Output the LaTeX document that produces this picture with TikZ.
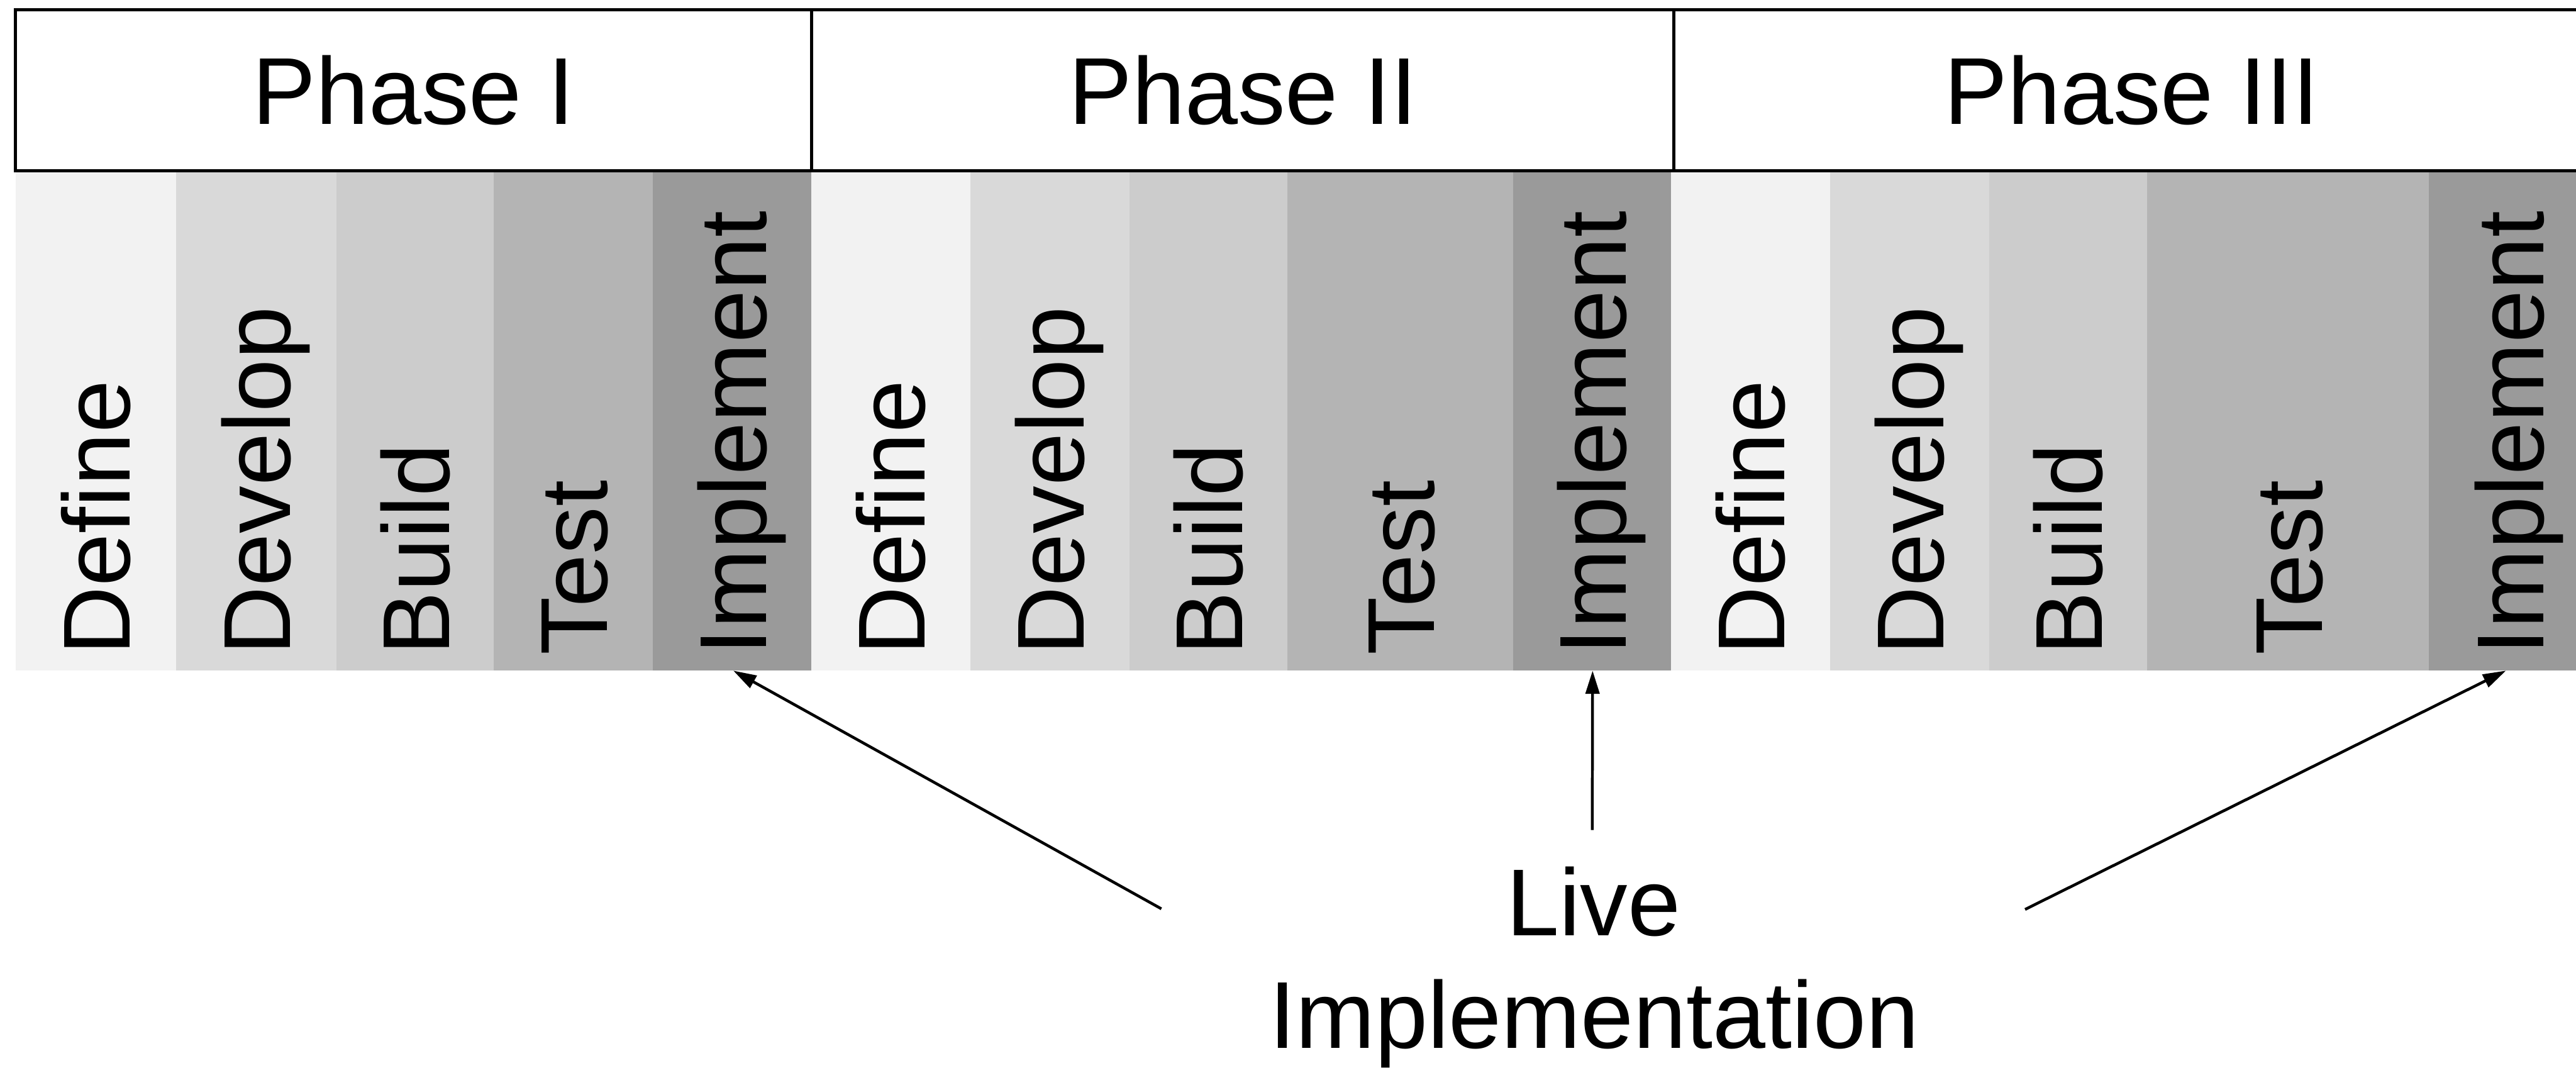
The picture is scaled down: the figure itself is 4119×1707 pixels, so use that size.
\documentclass[tikz,border=0pt]{standalone}
\usepackage{fontspec}
\setmainfont{Liberation Sans}
\usetikzlibrary{arrows.meta}

\definecolor{cdefine}{HTML}{F2F2F2}
\definecolor{cdevelop}{HTML}{D9D9D9}
\definecolor{cbuild}{HTML}{CCCCCC}
\definecolor{ctest}{HTML}{B4B4B4}
\definecolor{cimpl}{HTML}{9A9A9A}

\tikzset{
  band/.style={rectangle, draw=none, inner sep=0pt, outer sep=0pt, minimum height=7.99cm},
  phasebox/.style={rectangle, draw=black, line width=0.05cm, fill=white, inner sep=0pt,
    outer sep=0pt, minimum height=2.57cm},
  steplabel/.style={rotate=90, anchor=base west, inner sep=0pt, outer sep=0pt},
  biglabel/.style={anchor=base, inner sep=0pt, outer sep=0pt},
  pointer/.style={draw=black, line width=0.045cm, -{Triangle[length=0.37cm, width=0.22cm]}},
}

% one coloured band of a phase: name, left edge, right edge, colour
\newcommand\bandat[4]{%
  \node[band, fill=#4, minimum width={(#3-#2)*0.01cm}] (#1) at ({(#2+#3)/2},672.5) {};}
% upright step name inside a band: name, band centre, text
\newcommand\steptext[3]{%
  \node[steplabel] (#1) at ({#2+54.5},1047) {#3};}

\begin{document}
\begin{tikzpicture}[x=0.01cm, y=-0.01cm, font=\fontsize{43.2}{51}\selectfont]
\useasboundingbox (0,0) rectangle (4119,1707);

% bands, phase I
\bandat{b11}{25}{282}{cdefine}
\bandat{b12}{282}{538}{cdevelop}
\bandat{b13}{538}{789}{cbuild}
\bandat{b14}{789}{1044}{ctest}
\bandat{impl1}{1044}{1297}{cimpl}
% bands, phase II
\bandat{b21}{1297}{1552}{cdefine}
\bandat{b22}{1552}{1806}{cdevelop}
\bandat{b23}{1806}{2058}{cbuild}
\bandat{b24}{2058}{2419}{ctest}
\bandat{impl2}{2419}{2672}{cimpl}
% bands, phase III
\bandat{b31}{2672}{2926}{cdefine}
\bandat{b32}{2926}{3181}{cdevelop}
\bandat{b33}{3181}{3433}{cbuild}
\bandat{b34}{3433}{3884}{ctest}
\bandat{impl3}{3884}{4142}{cimpl}

% step names
\steptext{t11}{153.5}{Define}
\steptext{t12}{410}{Develop}
\steptext{t13}{663.5}{Build}
\steptext{t14}{916.5}{Test}
\steptext{t15}{1170.5}{Implement}
\steptext{t21}{1424.5}{Define}
\steptext{t22}{1679}{Develop}
\steptext{t23}{1932}{Build}
\steptext{t24}{2238.5}{Test}
\steptext{t25}{2545.5}{Implement}
\steptext{t31}{2799}{Define}
\steptext{t32}{3053.5}{Develop}
\steptext{t33}{3307}{Build}
\steptext{t34}{3658.5}{Test}
\steptext{t35}{4013}{Implement}

% phase headers
\node[phasebox, minimum width=12.73cm] (ph1) at (661.5,144.5) {Phase I};
\node[phasebox, minimum width=13.79cm] (ph2) at (1987.5,144.5) {Phase II};
\node[phasebox, minimum width=14.63cm] (ph3) at (3408.5,144.5) {Phase III};

% caption
\node[biglabel] (live) at (2548,1496) {Live};
\node[biglabel] (liveimpl) at (2549,1676) {Implementation};

% pointers from the caption to each implementation band
\coordinate (fromleft) at (1857,1453);
\coordinate (frommid) at (2546,1327);
\coordinate (fromright) at (3238,1454);
\draw[pointer] (fromleft) -- ([xshift=0.02cm]impl1.south);
\draw[pointer] (frommid) -- ([xshift=0.01cm]impl2.south);
\draw[pointer] (fromright) -- ([xshift=-0.06cm]impl3.south);
\end{tikzpicture}
\end{document}
